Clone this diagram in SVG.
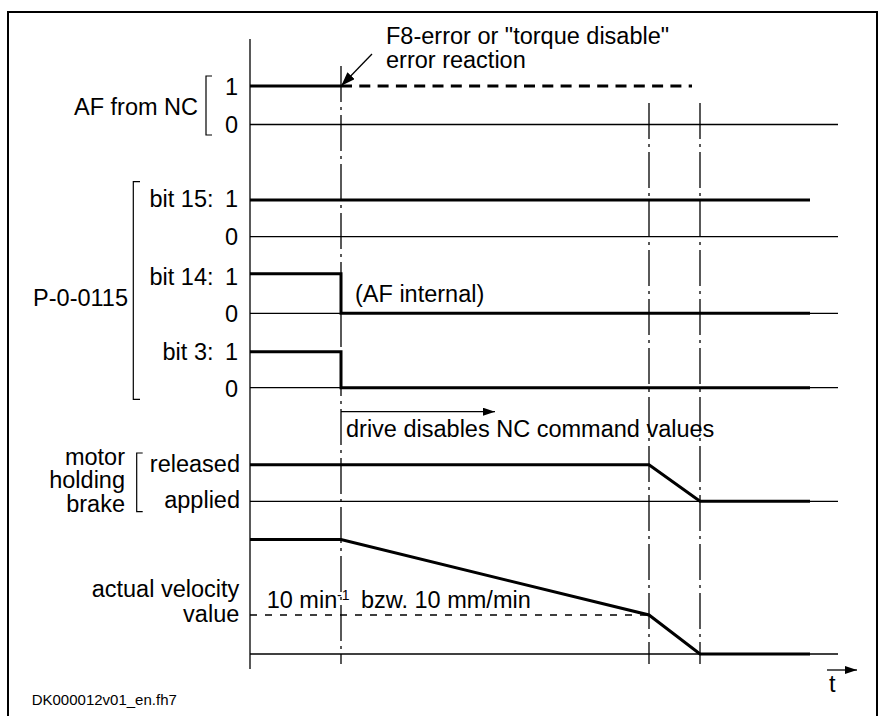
<svg xmlns="http://www.w3.org/2000/svg" width="882" height="716" viewBox="0 0 882 716">
<style>
text{font-family:"Liberation Sans",Arial,sans-serif;font-size:23.5px;fill:#000}
.sm{font-size:15px}
.e{text-anchor:end}
.thin{stroke:#000;stroke-width:1.3;fill:none}
.thick{stroke:#000;stroke-width:3;fill:none;stroke-linejoin:miter}
.dd{stroke:#000;stroke-width:1.3;fill:none;stroke-dasharray:36 5 3 5}
.brk{stroke:#000;stroke-width:1.2;fill:none}
</style>
<defs>
<marker id="ah" markerWidth="12" markerHeight="8" refX="12" refY="4" orient="auto" markerUnits="userSpaceOnUse">
<path d="M0,0 L12,4 L0,8 Z" fill="#000"/>
</marker>
<marker id="ah2" markerWidth="14" markerHeight="10" refX="13" refY="5" orient="auto" markerUnits="userSpaceOnUse">
<path d="M0,0 L14,5 L0,10 Z" fill="#000"/>
</marker>
</defs>
<rect width="882" height="716" fill="#fff"/>
<path d="M8,720 V12 H877 V720" fill="none" stroke="#000" stroke-width="2"/>

<g id="axis">
<line x1="250" y1="39" x2="250" y2="669" class="thin"/>
</g>

<g id="connectors">
<line x1="341" y1="66" x2="341" y2="664" class="dd"/>
<line x1="649" y1="103" x2="649" y2="664" class="dd"/>
<line x1="700" y1="103" x2="700" y2="664" class="dd"/>
<line x1="372" y1="54" x2="342" y2="85" stroke="#000" stroke-width="1.3" marker-end="url(#ah2)"/>
<line x1="341" y1="411.7" x2="495" y2="411.7" stroke="#000" stroke-width="1.3" marker-end="url(#ah)"/>
<line x1="827" y1="670" x2="857" y2="670" stroke="#000" stroke-width="1.3" marker-end="url(#ah)"/>
</g>

<g id="af-from-nc">
<line x1="250" y1="124.5" x2="838" y2="124.5" class="thin"/>
<line x1="250" y1="86" x2="341" y2="86" class="thick"/>
<line x1="341" y1="86" x2="692" y2="86" class="thick" stroke-dasharray="11 7.3"/>
<path d="M212,76 H206 V135 H212" class="brk"/>
<text x="198" y="115" class="e">AF from NC</text>
<text x="238" y="95" class="e">1</text>
<text x="238" y="133" class="e">0</text>
<text x="386" y="44">F8-error or "torque disable"</text>
<text x="386" y="67.5">error reaction</text>
</g>

<g id="p-0-0115">
<path d="M140,181.7 H133.3 V399.3 H140" class="brk"/>
<text x="128" y="306" class="e">P-0-0115</text>
</g>

<g id="bit15">
<line x1="250" y1="236.7" x2="838" y2="236.7" class="thin"/>
<line x1="250" y1="200" x2="810" y2="200" class="thick"/>
<text x="213.5" y="207" class="e">bit 15:</text>
<text x="238" y="207" class="e">1</text>
<text x="238" y="245" class="e">0</text>
</g>

<g id="bit14">
<line x1="250" y1="313.3" x2="838" y2="313.3" class="thin"/>
<path d="M250,273.7 H341 V313.3 H810" class="thick"/>
<text x="213.5" y="285" class="e">bit 14:</text>
<text x="238" y="285" class="e">1</text>
<text x="238" y="321.7" class="e">0</text>
<text x="355" y="301.7">(AF internal)</text>
</g>

<g id="bit3">
<line x1="250" y1="387.7" x2="838" y2="387.7" class="thin"/>
<path d="M250,351.7 H341 V387.7 H810" class="thick"/>
<text x="213.5" y="360" class="e">bit 3:</text>
<text x="238" y="360" class="e">1</text>
<text x="238" y="396.7" class="e">0</text>
</g>

<g id="drive-disables">
<text x="346" y="436.7">drive disables NC command values</text>
</g>

<g id="brake">
<line x1="250" y1="501.3" x2="838" y2="501.3" class="thin"/>
<path d="M250,464.7 H649 L700,501.3 H810" class="thick"/>
<path d="M142.7,453 H136.7 V511.7 H142.7" class="brk"/>
<text x="125" y="464.5" class="e">motor</text>
<text x="125" y="488" class="e">holding</text>
<text x="125" y="512" class="e">brake</text>
<text x="240" y="471.7" class="e">released</text>
<text x="240" y="508.3" class="e">applied</text>
</g>

<g id="velocity">
<line x1="250" y1="654" x2="838" y2="654" class="thin"/>
<line x1="250" y1="615" x2="649" y2="615" class="thin" stroke-dasharray="7 8"/>
<path d="M250,539.5 H341 L649,615 L700,654 H810" class="thick"/>
<text x="239.3" y="596.7" class="e">actual velocity</text>
<text x="239.3" y="621.7" class="e">value</text>
<text y="608"><tspan x="266.7">10 min</tspan><tspan x="337" y="600" font-size="14">-1</tspan><tspan x="361" y="608">bzw. 10 mm/min</tspan></text>
</g>

<g id="time">
<text x="829" y="691.7">t</text>
</g>

<g id="footer">
<text x="31.7" y="705" class="sm">DK000012v01_en.fh7</text>
</g>
</svg>
